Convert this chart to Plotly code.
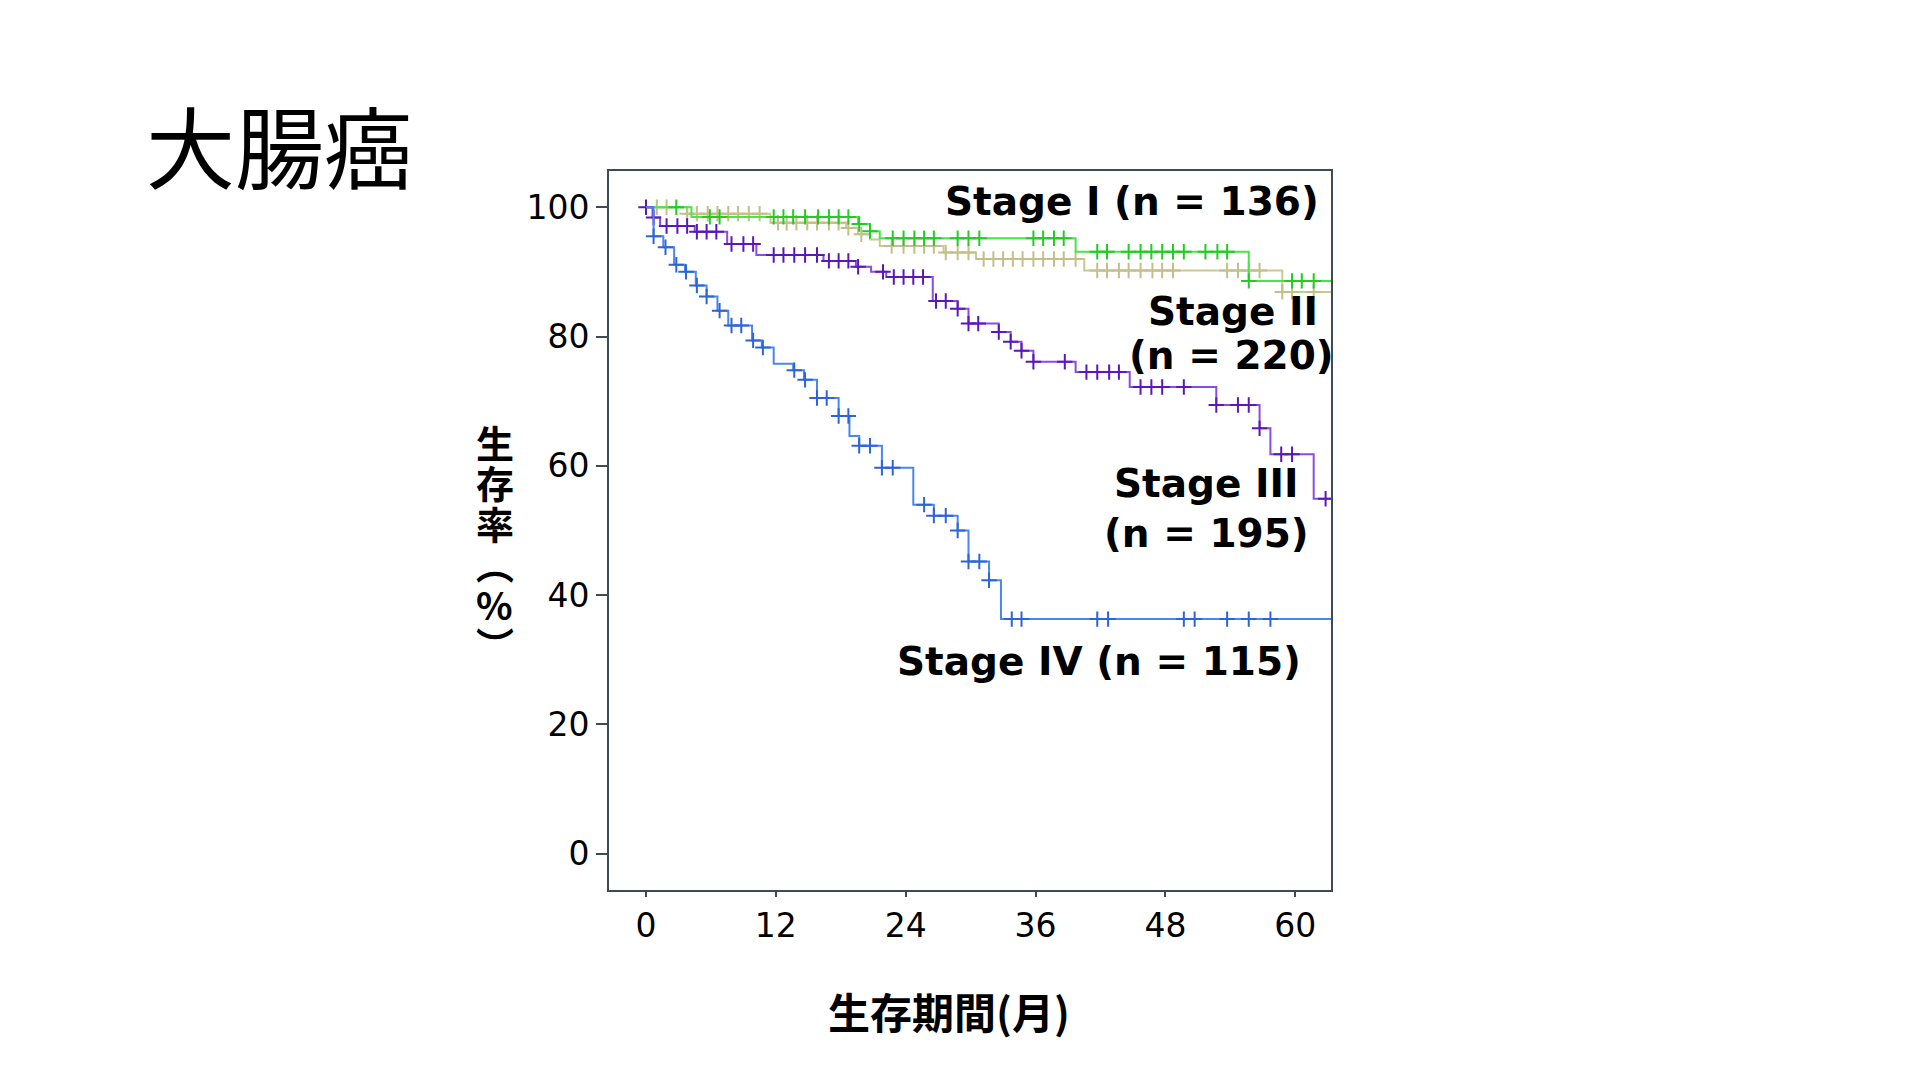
import numpy as np
import plotly.graph_objects as go

# Kaplan-Meier curves (months, survival %)
stage1_t = [4.2, 19.6, 20.7, 21.6, 39.7, 55.7]
stage1_s = [98.5, 97.4, 96.3, 95.2, 93.1, 88.6]
stage1_cens = [2.8, 5.9, 6.8, 11.8, 12.7, 13.6, 14.7, 15.9, 16.9, 17.8, 18.7, 19.7, 20.7,
               22.8, 23.8, 24.8, 25.7, 26.6, 28.8, 29.8, 30.8, 35.8, 36.7, 37.7, 38.6,
               41.7, 42.6, 44.6, 45.7, 46.7, 47.7, 48.7, 49.7, 51.7, 52.8, 53.7, 55.7,
               59.7, 60.6, 61.7]

stage2_t = [3.8, 11.5, 18.5, 19.6, 20.7, 21.6, 27.5, 30.5, 40.5, 58.8]
stage2_s = [99.0, 97.6, 96.8, 95.8, 95.0, 94.0, 93.0, 92.0, 90.2, 86.9]
stage2_cens = [1.0, 1.9, 3.8, 4.7, 5.7, 6.6, 7.6, 8.5, 9.5, 10.5, 12.2, 13.0, 13.9, 14.9,
               15.8, 16.9, 17.8, 18.7, 19.9, 22.7, 23.8, 24.8, 25.7, 26.6, 27.7, 28.8,
               29.8, 31.2, 32.1, 33.0, 33.9, 34.8, 35.8, 36.7, 37.7, 38.6, 39.7, 41.7,
               42.6, 43.7, 44.6, 45.7, 46.8, 47.7, 48.7, 53.7, 54.7, 55.7, 56.7, 58.8,
               59.7, 61.7]

stage3_t = [0.6, 1.3, 4.5, 7.5, 10.2, 16.4, 19.4, 20.8, 22.2, 26.5, 28.8, 29.8, 32.6,
            33.7, 34.7, 35.8, 39.7, 44.7, 52.7, 56.7, 57.7, 61.7]
stage3_s = [98.4, 97.1, 96.2, 94.3, 92.6, 91.7, 90.8, 90.0, 89.2, 85.5, 84.3, 82.0, 80.7,
            79.2, 77.8, 76.1, 74.5, 72.2, 69.4, 65.8, 61.8, 54.9]
stage3_cens = [0.0, 0.7, 1.9, 2.9, 3.8, 4.7, 5.6, 6.5, 7.9, 9.0, 9.9, 11.8, 12.7, 13.7,
               14.7, 15.8, 16.9, 17.8, 18.7, 19.6, 21.9, 22.9, 23.8, 24.7, 25.6, 26.8,
               27.7, 28.8, 29.8, 30.7, 32.6, 33.7, 34.7, 35.8, 38.7, 40.7, 41.7, 42.8,
               43.7, 45.7, 46.7, 47.7, 49.7, 52.7, 54.7, 55.7, 56.7, 58.7, 59.7, 62.8]

stage4_t = [0.7, 1.6, 2.6, 3.6, 4.6, 5.6, 6.6, 7.6, 9.8, 10.7, 11.8, 13.6, 14.6, 15.8,
            17.8, 18.8, 19.7, 21.8, 24.7, 26.6, 28.8, 29.8, 31.7, 32.8]
stage4_s = [95.5, 93.8, 91.1, 90.0, 87.9, 86.2, 84.0, 81.7, 79.4, 78.3, 75.8, 74.8, 73.3,
            70.5, 67.7, 64.6, 63.1, 59.7, 54.0, 52.3, 50.0, 45.2, 42.3, 36.3]
stage4_cens = [0.7, 1.8, 2.8, 3.7, 4.7, 5.6, 6.8, 7.9, 8.8, 9.9, 10.8, 13.7, 14.7, 15.8,
               16.7, 17.8, 18.7, 19.7, 20.7, 21.8, 22.8, 25.7, 26.6, 27.7, 28.8, 29.8,
               30.8, 31.7, 33.8, 34.7, 41.7, 42.7, 49.7, 50.7, 53.7, 55.7, 57.7]

x_ticks = [0, 12, 24, 36, 48, 60]
y_ticks = [0, 20, 40, 60, 80, 100]
end_t = 63.4

curves = [
    (stage2_t, stage2_s, stage2_cens, '#ccc891', '#c4bf87'),
    (stage1_t, stage1_s, stage1_cens, '#45e645', '#22cc22'),
    (stage3_t, stage3_s, stage3_cens, '#8b4ddb', '#5a18b8'),
    (stage4_t, stage4_s, stage4_cens, '#4a86ec', '#2d64d6'),
]

fig = go.Figure()
for t, s, cens, lc, mc in curves:
    xs = [0] + t + [end_t]
    ys = [100] + s + [s[-1]]
    fig.add_trace(go.Scatter(x=xs, y=ys, mode='lines', line=dict(color=lc, width=2, shape='hv'),
                             hoverinfo='skip', showlegend=False))
    levels = np.array([100] + s)
    cy = levels[np.searchsorted(np.array(t), np.array(cens), side='right')]
    fig.add_trace(go.Scatter(x=cens, y=cy, mode='markers',
                             marker=dict(symbol='cross-thin', size=11, line=dict(color=mc, width=2)),
                             hoverinfo='skip', showlegend=False))

lab_font = dict(family='DejaVu Sans', size=39, color='black')
labels = [
    ('<b>Stage I (n = 136)</b>', 44.9, 100.9),
    ('<b>Stage II</b>', 54.2, 83.9),
    ('<b>(n = 220)</b>', 54.1, 77.0),
    ('<b>Stage III</b>', 51.8, 57.2),
    ('<b>(n = 195)</b>', 51.8, 49.6),
    ('<b>Stage IV (n = 115)</b>', 41.9, 29.7),
]
for txt, x, y in labels:
    fig.add_annotation(x=x, y=y, xref='x', yref='y', text=txt, showarrow=False,
                       font=lab_font, xanchor='center', yanchor='middle')

# vertical y title, one glyph per line
ytitle = ['生', '存', '率', '︵', '%', '︶']
for i, ch in enumerate(ytitle):
    fig.add_annotation(x=-0.158, y=(882 - 433 - 40.5 * i) / 719, xref='paper', yref='paper',
                       text='<b>' + ch + '</b>', showarrow=False, xanchor='center', yanchor='middle',
                       font=dict(family='Noto Sans CJK JP', size=38, color='black'))

fig.add_annotation(x=0.471, y=-0.168, xref='paper', yref='paper', text='<b>生存期間(月)</b>',
                   showarrow=False, xanchor='center', yanchor='middle',
                   font=dict(family='Noto Sans CJK JP', size=42, color='black'))

fig.add_annotation(x=-0.644, y=1.0376, xref='paper', yref='paper', text='大腸癌',
                   showarrow=False, xanchor='left', yanchor='middle',
                   font=dict(family='Noto Sans CJK JP', size=89, color='black'))

axis_col = '#3d4b52'
fig.update_xaxes(range=[-3.42, 63.3], tickmode='array', tickvals=x_ticks,
                 ticks='outside', ticklen=5, tickwidth=2, tickcolor=axis_col,
                 showline=True, linecolor=axis_col, linewidth=2, mirror=True,
                 showgrid=False, zeroline=False,
                 tickfont=dict(family='DejaVu Sans', size=33, color='black'))
fig.update_yaxes(range=[-5.6, 105.6], tickmode='array', tickvals=y_ticks,
                 ticks='outside', ticklen=11, tickwidth=2, tickcolor=axis_col,
                 showline=True, linecolor=axis_col, linewidth=2, mirror=True,
                 showgrid=False, zeroline=False,
                 tickfont=dict(family='DejaVu Sans', size=33, color='black'))

fig.update_layout(width=1920, height=1080, paper_bgcolor='white', plot_bgcolor='white',
                  margin=dict(l=601, r=597, t=163, b=198, autoexpand=False))

fig.write_html('out.html')
